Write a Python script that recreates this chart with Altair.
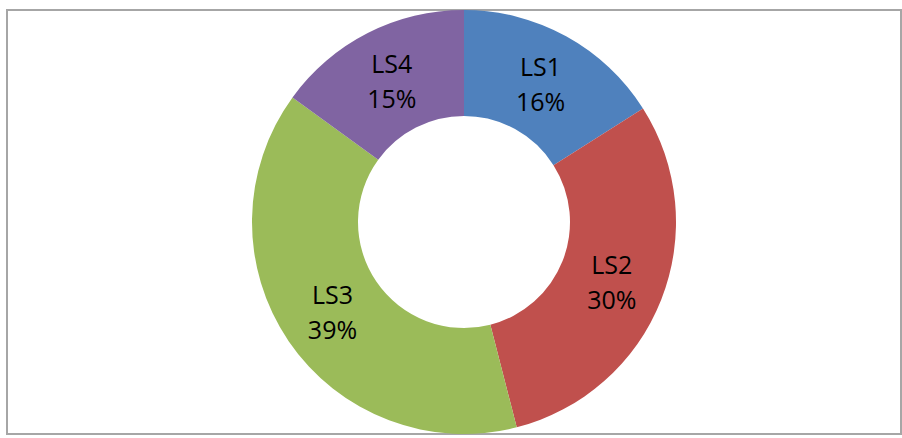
import altair as alt
import pandas as pd

categories = ["LS1", "LS2", "LS3", "LS4"]
values = [16, 30, 39, 15]
colors = ["#4F81BD", "#C0504D", "#9BBB59", "#8064A2"]

df = pd.DataFrame({"cat": categories, "val": values})
df["label"] = [f"{c}\n{v}%" for c, v in zip(categories, values)]

base = alt.Chart(df).encode(
    theta=alt.Theta("val:Q", stack=True),
    order=alt.Order("cat:N", sort="ascending"),
)

arcs = base.mark_arc(outerRadius=212, innerRadius=106).encode(
    color=alt.Color("cat:N", scale=alt.Scale(domain=categories, range=colors), legend=None),
    x=alt.value(457),
    y=alt.value(212),
)

labels = base.mark_text(
    radius=159, font="Open Sans", fontSize=25, lineBreak="\n", lineHeight=35,
    color="#000000", align="center", baseline="middle", dy=-15,
).encode(
    text="label:N",
    x=alt.value(457),
    y=alt.value(212),
)

chart = (arcs + labels).properties(
    width=894, height=424,
    padding={"left": 7, "top": 10, "right": 1, "bottom": 4},
).configure_view(stroke="#A6A6A6", strokeWidth=2)

chart.save("out.html", embed_options={"renderer": "svg", "actions": False})
